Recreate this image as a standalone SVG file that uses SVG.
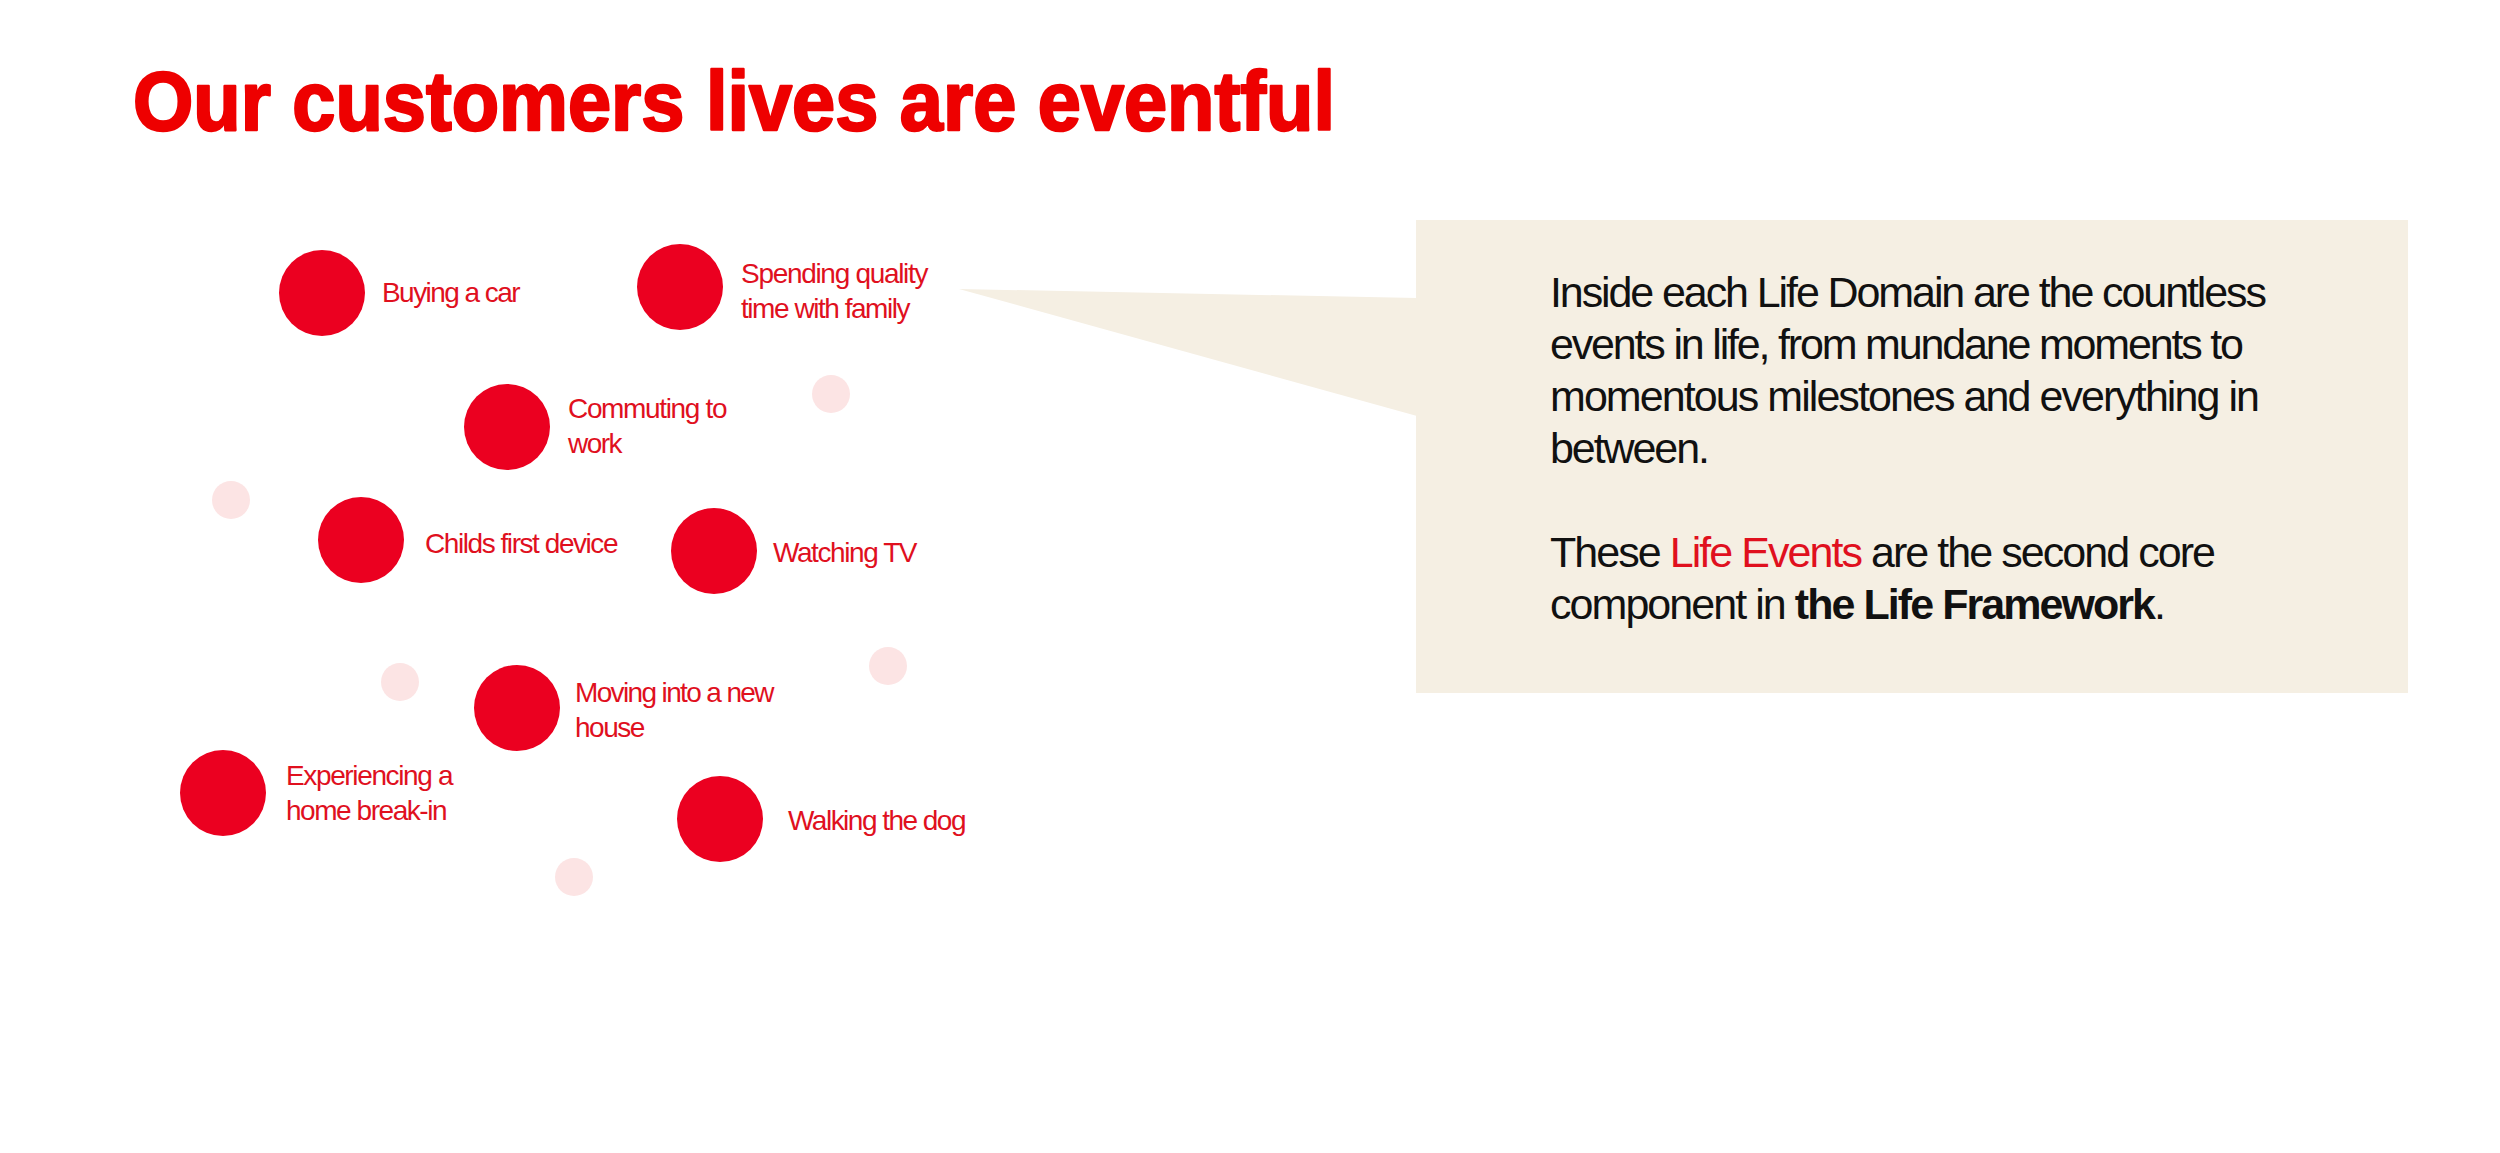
<svg xmlns="http://www.w3.org/2000/svg" width="2500" height="1153" viewBox="0 0 2500 1153">
  <style>
    .title { font-family: "Liberation Sans", Arial, sans-serif; font-weight: 700; font-size: 84px; fill: #EE0000; stroke: #EE0000; stroke-width: 2.5px; stroke-linejoin: round; }
    .dot { fill: #EB0020; }
    .pale { fill: #FCE4E4; }
    .lbl { font-family: "Liberation Sans", Arial, sans-serif; font-size: 28px; fill: #E0101E; letter-spacing: -1.5px; }
    .body { font-family: "Liberation Sans", Arial, sans-serif; font-size: 43px; fill: #111111; }
    .accent { fill: #E0101E; }
    .strong { font-weight: 700; }
    .callout { fill: #F5EFE3; }
  </style>
  <rect x="0" y="0" width="2500" height="1153" fill="#FFFFFF"/>

  <text class="title" x="133" y="130" textLength="1202" lengthAdjust="spacingAndGlyphs">Our customers lives are eventful</text>

  <g id="decor">
    <circle class="pale" cx="831" cy="394" r="19"/>
    <circle class="pale" cx="231" cy="500" r="19"/>
    <circle class="pale" cx="400" cy="682" r="19"/>
    <circle class="pale" cx="888" cy="666" r="19"/>
    <circle class="pale" cx="574" cy="877" r="19"/>
  </g>

  <g id="node-buying-car">
    <circle class="dot" cx="322" cy="293" r="43"/>
    <text class="lbl" x="382" y="302" textLength="137" lengthAdjust="spacing">Buying a car</text>
  </g>
  <g id="node-quality-time">
    <circle class="dot" cx="680" cy="287" r="43"/>
    <text class="lbl" x="741" y="283" textLength="186" lengthAdjust="spacing">Spending quality</text>
    <text class="lbl" x="741" y="318" textLength="168" lengthAdjust="spacing">time with family</text>
  </g>
  <g id="node-commuting">
    <circle class="dot" cx="507" cy="427" r="43"/>
    <text class="lbl" x="568" y="418" textLength="158" lengthAdjust="spacing">Commuting to</text>
    <text class="lbl" x="568" y="453">work</text>
  </g>
  <g id="node-childs-device">
    <circle class="dot" cx="361" cy="540" r="43"/>
    <text class="lbl" x="425" y="553" textLength="192" lengthAdjust="spacing">Childs first device</text>
  </g>
  <g id="node-watching-tv">
    <circle class="dot" cx="714" cy="551" r="43"/>
    <text class="lbl" x="773" y="562" textLength="143" lengthAdjust="spacing">Watching TV</text>
  </g>
  <g id="node-moving-house">
    <circle class="dot" cx="517" cy="708" r="43"/>
    <text class="lbl" x="575" y="702" textLength="198" lengthAdjust="spacing">Moving into a new</text>
    <text class="lbl" x="575" y="737">house</text>
  </g>
  <g id="node-break-in">
    <circle class="dot" cx="223" cy="793" r="43"/>
    <text class="lbl" x="286" y="785" textLength="166" lengthAdjust="spacing">Experiencing a</text>
    <text class="lbl" x="286" y="820" textLength="160" lengthAdjust="spacing">home break-in</text>
  </g>
  <g id="node-walking-dog">
    <circle class="dot" cx="720" cy="819" r="43"/>
    <text class="lbl" x="788" y="830" textLength="177" lengthAdjust="spacing">Walking the dog</text>
  </g>

  <g id="connectors">
    <polygon class="callout" points="959,289 1417,298 1417,416"/>
  </g>

  <g id="callout-box">
    <rect class="callout" x="1416" y="220" width="992" height="473"/>
    <text class="body" x="1550" y="307" textLength="717" lengthAdjust="spacing">Inside each Life Domain are the countless</text>
    <text class="body" x="1550" y="359" textLength="694" lengthAdjust="spacing">events in life, from mundane moments to</text>
    <text class="body" x="1550" y="411" textLength="710" lengthAdjust="spacing">momentous milestones and everything in</text>
    <text class="body" x="1550" y="463" textLength="160" lengthAdjust="spacing">between.</text>
    <text class="body" x="1550" y="567" textLength="666" lengthAdjust="spacing">These <tspan class="accent">Life Events</tspan> are the second core</text>
    <text class="body" x="1550" y="619" textLength="616" lengthAdjust="spacing">component in <tspan class="strong">the Life Framework</tspan>.</text>
  </g>
</svg>
